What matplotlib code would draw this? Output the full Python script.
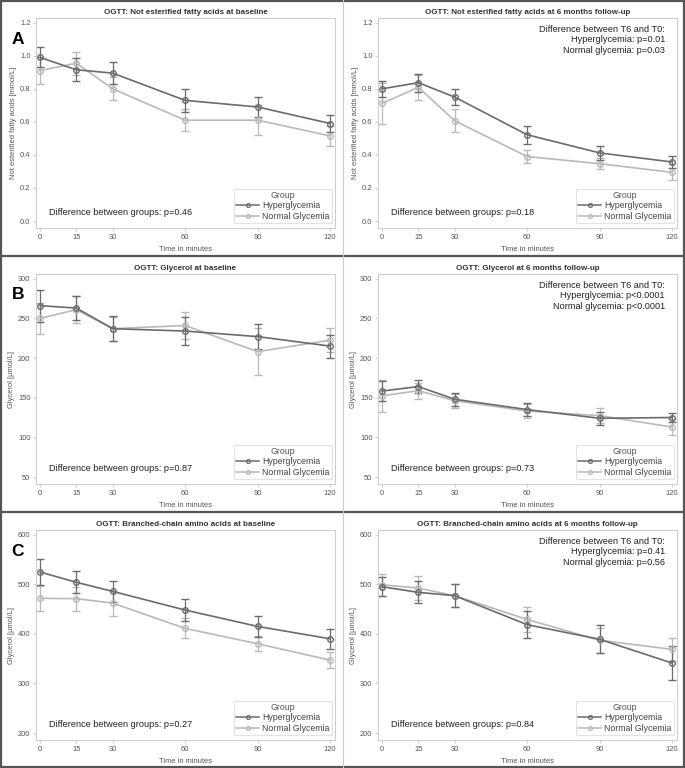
import matplotlib
matplotlib.use("Agg")
import matplotlib.pyplot as plt
from matplotlib.lines import Line2D
from matplotlib.patches import Rectangle

plt.rcParams['font.family'] = ['Liberation Sans', 'DejaVu Sans']

time_min = [0, 15, 30, 60, 90, 120]
x_ticks = [0, 15, 30, 60, 90, 120]

# Panel A - NEFA baseline
nefa_base_hyper = [0.99, 0.915, 0.895, 0.73, 0.69, 0.59]
nefa_base_hyper_err = [0.06, 0.07, 0.065, 0.07, 0.06, 0.05]
nefa_base_normal = [0.91, 0.955, 0.80, 0.61, 0.61, 0.515]
nefa_base_normal_err = [0.08, 0.07, 0.07, 0.065, 0.09, 0.06]
# Panel A - NEFA follow-up
nefa_fu_hyper = [0.80, 0.837, 0.75, 0.522, 0.412, 0.357]
nefa_fu_hyper_err = [0.05, 0.055, 0.046, 0.055, 0.04, 0.034]
nefa_fu_normal = [0.712, 0.809, 0.607, 0.39, 0.347, 0.294]
nefa_fu_normal_err = [0.123, 0.075, 0.07, 0.037, 0.035, 0.048]

# Panel B - Glycerol baseline
gly_base_hyper = [266, 263, 237, 234, 227, 215]
gly_base_hyper_err = [20, 15, 16, 17.5, 15.5, 14.5]
gly_base_normal = [250, 261, 237, 241, 208, 222.5]
gly_base_normal_err = [19.5, 17, 15, 17, 30, 15]
# Panel B - Glycerol follow-up
gly_fu_hyper = [158.4, 164, 148, 135, 124, 125]
gly_fu_hyper_err = [12, 8, 8, 8.5, 8, 6]
gly_fu_normal = [152.5, 158.8, 146.2, 133.2, 127.3, 113]
gly_fu_normal_err = [20, 10, 9, 9, 9.5, 9.5]

# Panel C - BCAA baseline
bcaa_base_hyper = [524.7, 504, 485.7, 448, 415, 390]
bcaa_base_hyper_err = [25.5, 22, 21, 22, 20.5, 20]
bcaa_base_normal = [471.6, 471, 462, 411, 380, 347]
bcaa_base_normal_err = [24.5, 24, 25, 20, 15, 16]
# Panel C - BCAA follow-up
bcaa_fu_hyper = [495, 483.7, 477, 418.5, 389, 341]
bcaa_fu_hyper_err = [19, 22, 23, 27, 28, 34]
bcaa_fu_normal = [499, 492.4, 477, 429, 387, 368.7]
bcaa_fu_normal_err = [22, 24, 23, 26, 25, 23]

titles = [
    ["OGTT: Not esterified fatty acids at baseline", "OGTT: Not esterified fatty acids at 6 months follow-up"],
    ["OGTT: Glycerol at baseline", "OGTT: Glycerol at 6 months follow-up"],
    ["OGTT: Branched-chain amino acids at baseline", "OGTT: Branched-chain amino acids at 6 months follow-up"],
]
ylabels = ["Not esterified fatty acids [mmol/L]", "Glycerol [µmol/L]", "Glycerol [µmol/L]"]
y_ticks = [
    [0.0, 0.2, 0.4, 0.6, 0.8, 1.0, 1.2],
    [50, 100, 150, 200, 250, 300],
    [200, 300, 400, 500, 600],
]
y_ticklabels = [
    ["0.0", "0.2", "0.4", "0.6", "0.8", "1.0", "1.2"],
    ["50", "100", "150", "200", "250", "300"],
    ["200", "300", "400", "500", "600"],
]
group_p = [["0.46", "0.18"], ["0.87", "0.73"], ["0.27", "0.84"]]
time_p = [("p=0.01", "p=0.03"), ("p<0.0001", "p<0.0001"), ("p=0.41", "p=0.56")]
letters = ["A", "B", "C"]

data = [
    [(nefa_base_hyper, nefa_base_hyper_err, nefa_base_normal, nefa_base_normal_err),
     (nefa_fu_hyper, nefa_fu_hyper_err, nefa_fu_normal, nefa_fu_normal_err)],
    [(gly_base_hyper, gly_base_hyper_err, gly_base_normal, gly_base_normal_err),
     (gly_fu_hyper, gly_fu_hyper_err, gly_fu_normal, gly_fu_normal_err)],
    [(bcaa_base_hyper, bcaa_base_hyper_err, bcaa_base_normal, bcaa_base_normal_err),
     (bcaa_fu_hyper, bcaa_fu_hyper_err, bcaa_fu_normal, bcaa_fu_normal_err)],
]

W, H = 685, 768
fig = plt.figure(figsize=(W / 100, H / 100), dpi=100)
fig.patch.set_facecolor('white')

HYPER = '#6b6b6b'
NORMAL = '#b9b9b9'
FRAME = '#cfcfcf'
TXT = '#555555'

col_left = [36, 378]
ax_w = 299
for r in range(3):
    top_px = 256 * r + 18
    bot_px = 256 * r + 228
    yt = y_ticks[r]
    rng = yt[-1] - yt[0]
    ylim = (yt[0] - rng * 7.0 / 198.3, yt[-1] + rng * 4.7 / 198.3)
    for c in range(2):
        ax = fig.add_axes([col_left[c] / W, 1 - bot_px / H, ax_w / W, (bot_px - top_px) / H])
        hm, he, nm, ne = data[r][c]
        for m, e, col, lab in [(nm, ne, NORMAL, 'Normal Glycemia'), (hm, he, HYPER, 'Hyperglycemia')]:
            ax.errorbar(time_min, m, yerr=e, color=col, lw=1.2, elinewidth=0.9,
                        capsize=3, capthick=0.9, marker='o', ms=4, mfc='none', mew=1.0, label=lab)
        ax.set_xlim(-1.7, 122)
        ax.set_ylim(*ylim)
        ax.set_xticks(x_ticks)
        ax.set_xticklabels([str(t) for t in x_ticks])
        ax.set_yticks(yt)
        ax.set_yticklabels(y_ticklabels[r])
        ax.tick_params(axis='both', labelsize=5.4, colors=FRAME, labelcolor=TXT, length=2.5, width=0.8, pad=1.5)
        for s in ax.spines.values():
            s.set_color(FRAME)
            s.set_linewidth(0.8)
        ax.set_xlabel("Time in minutes", fontsize=5.4, color=TXT, labelpad=4)
        ax.set_ylabel(ylabels[r], fontsize=5.4, color=TXT, labelpad=2)
        ax.set_title(titles[r][c], fontsize=5.8, fontweight='bold', color='#333333', pad=3)
        handles = [
            Line2D([0], [0], color=HYPER, lw=1.1, marker='o', ms=2.8, mfc='none', mew=0.9),
            Line2D([0], [0], color=NORMAL, lw=1.1, marker='o', ms=2.8, mfc='none', mew=0.9),
        ]
        leg = ax.legend(handles, ['Hyperglycemia', 'Normal Glycemia'], title='Group',
                        loc='lower right', bbox_to_anchor=(0.99, 0.024), fontsize=6.3,
                        title_fontsize=6.3, frameon=True, fancybox=False, borderpad=0.25,
                        handlelength=2.6, handletextpad=0.4, labelspacing=0.15,
                        borderaxespad=0.0)
        leg.get_frame().set_edgecolor('#dddddd')
        leg.get_frame().set_linewidth(0.8)
        for t in leg.get_texts():
            t.set_color('#444444')
        leg.get_title().set_color('#555555')
        ax.text(0.043, 0.072, f"Difference between groups: p={group_p[r][c]}", transform=ax.transAxes,
                fontsize=6.6, color='#222222', ha='left', va='center')
        if c == 1:
            ax.text(0.96, 0.968,
                    "Difference between T6 and T0:\nHyperglycemia: " + time_p[r][0] +
                    "\nNormal glycemia: " + time_p[r][1],
                    transform=ax.transAxes, fontsize=6.6, color='#222222', ha='right', va='top',
                    multialignment='right', linespacing=1.2)
    fig.text(18 / W, 1 - (256 * r + 39) / H, letters[r], fontsize=12.5, fontweight='bold',
             color='black', ha='center', va='center')

# panel separators and border
for yy in [256, 512]:
    fig.add_artist(Line2D([0, 1], [1 - yy / H, 1 - yy / H], transform=fig.transFigure,
                          color='#555555', lw=1.6))
fig.add_artist(Line2D([342.5 / W, 342.5 / W], [0, 1], transform=fig.transFigure,
                      color='#cccccc', lw=0.8))
fig.add_artist(Rectangle((0.0008, 0.0008), 0.9984, 0.9984, transform=fig.transFigure,
                         fill=False, edgecolor='#555555', lw=1.6))

fig.savefig("out.png", dpi=100)
